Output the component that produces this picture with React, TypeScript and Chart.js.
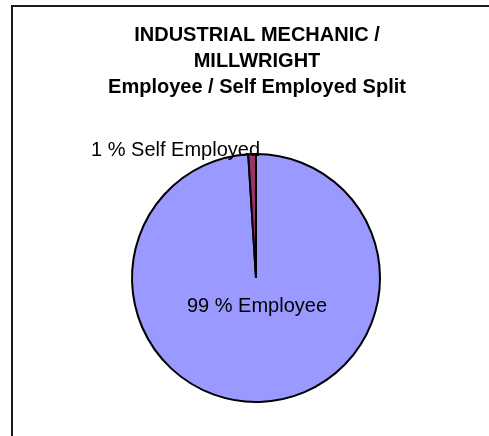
import React, { useEffect, useRef } from "react";
import { Chart, registerables } from "chart.js";

Chart.register(...registerables);

const categories = ["Employee", "Self Employed"];
const values = [99, 1];
const colors = ["#9999FF", "#993366"];
const titleLines = ["INDUSTRIAL MECHANIC /", "MILLWRIGHT", "Employee / Self Employed Split"];

const W = 489;
const H = 436;

const textPlugin = {
  id: "textPlugin",
  afterDraw(chart: any) {
    const ctx = chart.ctx;
    ctx.save();
    // frame
    ctx.strokeStyle = "#1a1a1a";
    ctx.lineWidth = 2;
    ctx.strokeRect(12, 6, 700, 700);
    // title
    ctx.fillStyle = "#000";
    ctx.textAlign = "center";
    ctx.textBaseline = "alphabetic";
    ctx.font = "bold 20px 'Liberation Sans', Arial, sans-serif";
    titleLines.forEach((t, i) => ctx.fillText(t, 257, 41 + i * 26));
    // labels
    ctx.font = "20px 'Liberation Sans', Arial, sans-serif";
    const meta = chart.getDatasetMeta(0);
    const arcE = meta.data[0];
    const arcS = meta.data[1];
    ctx.textAlign = "center";
    ctx.fillText(`${values[0]} % ${categories[0]}`, arcE.x + 1, arcE.y + 34);
    ctx.textAlign = "right";
    ctx.fillText(`${values[1]} % ${categories[1]}`, arcS.x + 4, arcS.y - 122);
    ctx.restore();
  },
};

export default function App() {
  const ref = useRef<HTMLCanvasElement>(null);
  useEffect(() => {
    if (!ref.current) return;
    const chart = new Chart(ref.current, {
      type: "pie",
      data: {
        labels: categories,
        datasets: [
          {
            data: values,
            backgroundColor: colors,
            borderColor: "#000",
            borderWidth: 2,
          },
        ],
      },
      options: {
        responsive: false,
        animation: false,
        rotation: 0,
        layout: { padding: { left: 131, right: 108, top: 153, bottom: 33 } },
        plugins: {
          legend: { display: false },
          title: { display: false },
          tooltip: { enabled: false },
        },
      },
      plugins: [textPlugin],
    });
    return () => chart.destroy();
  }, []);
  return (
    <div style={{ position: "fixed", left: 0, top: 0, width: W, height: H, background: "#fff" }}>
      <canvas ref={ref} width={W} height={H} style={{ width: W, height: H, display: "block" }} />
    </div>
  );
}
